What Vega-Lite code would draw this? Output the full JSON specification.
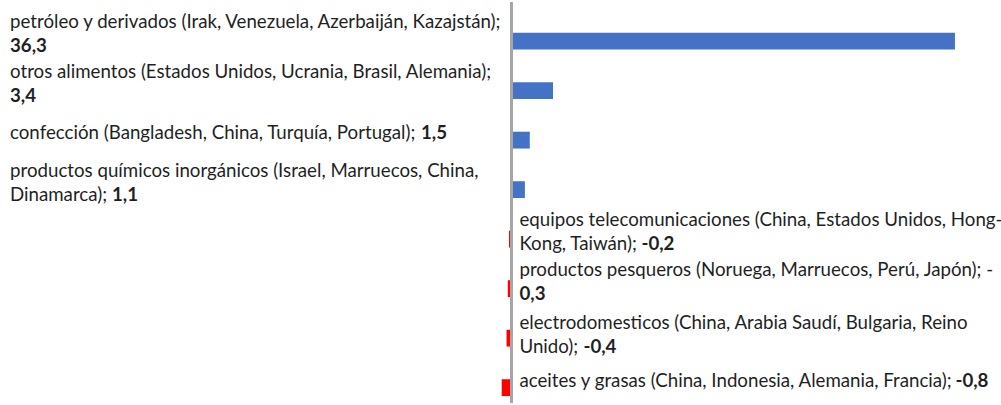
{
  "$schema": "https://vega.github.io/schema/vega-lite/v6.json",
  "width": 1001,
  "height": 405,
  "autosize": {"type": "fit", "contains": "padding"},
  "padding": 0,
  "background": "white",
  "config": {"view": {"stroke": null}, "text": {"font": "Lato", "fontSize": 18.7, "color": "#1f1f1f", "align": "left", "baseline": "middle", "lineBreak": "\n", "lineHeight": 24}},
  "data": {"values": [
    {"k": "petróleo y derivados", "value": 36.3, "txt": "petróleo y derivados (Irak, Venezuela, Azerbaiján, Kazajstán);", "b": "36,3"},
    {"k": "otros alimentos", "value": 3.4, "txt": "otros alimentos (Estados Unidos, Ucrania, Brasil, Alemania);", "b": "3,4"},
    {"k": "confección", "value": 1.5, "txt": "confección (Bangladesh, China, Turquía, Portugal);", "b": "1,5"},
    {"k": "productos químicos inorgánicos", "value": 1.1, "txt": "productos químicos inorgánicos (Israel, Marruecos, China,\nDinamarca);", "b": "1,1"},
    {"k": "equipos telecomunicaciones", "value": -0.2, "txt": "equipos telecomunicaciones (China, Estados Unidos, Hong-\nKong, Taiwán);", "b": "-0,2"},
    {"k": "productos pesqueros", "value": -0.3, "txt": "productos pesqueros (Noruega, Marruecos, Perú, Japón); -", "b": "0,3"},
    {"k": "electrodomesticos", "value": -0.4, "txt": "electrodomesticos (China, Arabia Saudí, Bulgaria, Reino\nUnido);", "b": "-0,4"},
    {"k": "aceites y grasas", "value": -0.8, "txt": "aceites y grasas (China, Indonesia, Alemania, Francia);", "b": "-0,8"}
  ]},
  "encoding": {
    "y": {"field": "k", "type": "nominal", "sort": null, "axis": null,
          "scale": {"paddingInner": 0.66, "paddingOuter": 0.38, "align": 0.816}}
  },
  "layer": [
    {
      "mark": {"type": "bar"},
      "encoding": {
        "x": {"field": "value", "type": "quantitative", "axis": null,
              "scale": {"domain": [-41.86, 39.74], "nice": false, "zero": false}},
        "color": {"condition": {"test": "datum.value < 0", "value": "#FF0000"}, "value": "#4472C4"}
      }
    },
    {
      "mark": {"type": "rule", "color": "#A6A6A6", "strokeWidth": 2.5},
      "encoding": {"x": {"datum": 0}, "y": null}
    },
    {
      "transform": [{"filter": "datum.value > 0 && datum.k != 'confección'"}],
      "mark": {"type": "text", "dy": -19},
      "encoding": {"x": {"datum": -41.04}, "text": {"field": "txt"}}
    },
    {
      "transform": [{"filter": "datum.k == 'confección'"}],
      "mark": {"type": "text", "dy": -7},
      "encoding": {"x": {"datum": -41.04}, "text": {"field": "txt"}}
    },
    {
      "transform": [{"filter": "datum.value < 0 && datum.k != 'aceites y grasas' && datum.k != 'electrodomesticos'"}],
      "mark": {"type": "text", "dy": -19},
      "encoding": {"x": {"datum": 0.654}, "text": {"field": "txt"}}
    },
    {
      "transform": [{"filter": "datum.k == 'electrodomesticos'"}],
      "mark": {"type": "text", "dy": -15},
      "encoding": {"x": {"datum": 0.654}, "text": {"field": "txt"}}
    },
    {
      "transform": [{"filter": "datum.k == 'aceites y grasas'"}],
      "mark": {"type": "text", "dy": -7},
      "encoding": {"x": {"datum": 0.654}, "text": {"field": "txt"}}
    },
    {
      "transform": [{"filter": "datum.k == 'petróleo y derivados' || datum.k == 'otros alimentos'"}],
      "mark": {"type": "text", "dy": 5, "fontWeight": "bold"},
      "encoding": {"x": {"datum": -41.04}, "text": {"field": "b"}}
    },
    {
      "transform": [{"filter": "datum.k == 'confección'"}],
      "mark": {"type": "text", "dy": -7, "dx": 411, "fontWeight": "bold"},
      "encoding": {"x": {"datum": -41.04}, "text": {"field": "b"}}
    },
    {
      "transform": [{"filter": "datum.k == 'productos químicos inorgánicos'"}],
      "mark": {"type": "text", "dy": 5, "dx": 102, "fontWeight": "bold"},
      "encoding": {"x": {"datum": -41.04}, "text": {"field": "b"}}
    },
    {
      "transform": [{"filter": "datum.k == 'equipos telecomunicaciones'"}],
      "mark": {"type": "text", "dy": 5, "dx": 122, "fontWeight": "bold"},
      "encoding": {"x": {"datum": 0.654}, "text": {"field": "b"}}
    },
    {
      "transform": [{"filter": "datum.k == 'productos pesqueros'"}],
      "mark": {"type": "text", "dy": 5, "dx": 0, "fontWeight": "bold"},
      "encoding": {"x": {"datum": 0.654}, "text": {"field": "b"}}
    },
    {
      "transform": [{"filter": "datum.k == 'electrodomesticos'"}],
      "mark": {"type": "text", "dy": 9, "dx": 64, "fontWeight": "bold"},
      "encoding": {"x": {"datum": 0.654}, "text": {"field": "b"}}
    },
    {
      "transform": [{"filter": "datum.k == 'aceites y grasas'"}],
      "mark": {"type": "text", "dy": -7, "dx": 436, "fontWeight": "bold"},
      "encoding": {"x": {"datum": 0.654}, "text": {"field": "b"}}
    }
  ]
}
